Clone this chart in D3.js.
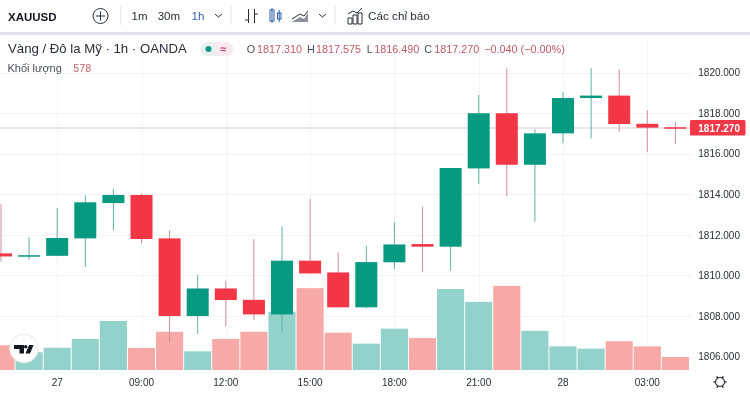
<!DOCTYPE html>
<html><head><meta charset="utf-8">
<script src="https://cdn.jsdelivr.net/npm/d3@7"></script>
<style>
html,body{margin:0;padding:0;background:#fff;width:750px;height:393px;overflow:hidden}
svg{display:block;filter:blur(.3px)}
text{font-family:"Liberation Sans",Arial,sans-serif}
</style></head><body><svg id="c" width="750" height="393"></svg>
<script>
// one entry per hourly candle
const opens  =[1811.09,1810.95,1810.97,1811.83,1813.57,1813.97,1811.83,1808.00,1809.36,1808.80,1808.08,1810.73,1810.15,1808.43,1810.65,1811.55,1811.42,1815.28,1818.00,1815.46,1817.01,1818.75,1818.87,1817.48,1817.31];
const closes =[1810.94,1811.00,1811.85,1813.61,1813.97,1811.80,1808.00,1809.36,1808.79,1808.08,1810.73,1810.10,1808.43,1810.66,1811.53,1811.42,1815.30,1818.00,1815.46,1817.01,1818.75,1818.87,1817.47,1817.29,1817.27];
const highs  =[1813.52,1811.89,1813.33,1813.95,1814.28,1814.05,1812.23,1810.02,1809.72,1811.80,1812.42,1813.77,1811.14,1811.47,1812.62,1813.39,1815.30,1818.90,1820.22,1817.21,1819.06,1820.22,1820.15,1818.15,1817.575];
const lows   =[1810.68,1810.79,1810.95,1810.41,1812.23,1811.58,1806.70,1807.12,1807.50,1807.81,1807.21,1810.10,1808.43,1808.38,1810.32,1810.18,1810.23,1814.51,1813.92,1812.65,1816.52,1816.76,1817.09,1816.09,1816.49];
const volumes=[1100,790,990,1380,2180,980,1700,830,1380,1700,2590,3640,1660,1170,1840,1420,3600,3030,3740,1740,1050,950,1280,1050,578];
const priceTicks=[1820,1818,1816,1814,1812,1810,1808,1806];
const timeLabels=[["27",2],["09:00",5],["12:00",8],["15:00",11],["18:00",14],["21:00",17],["28",20],["03:00",23]];
const intervals=["1m","30m","1h"];
const UP="#089981",DOWN="#f23645",lastPrice=1817.27;

const svg=d3.select("#c");
const x=d3.scaleLinear().domain([0,24]).range([1,675.4]);
const y=d3.scaleLinear().domain([1806,1820]).range([356.6,72.7]);
const v=d3.scaleLinear().domain([0,578]).range([370,357]);
const plotR=692,plotT=41,plotB=370;

// grid
const grid=svg.append("g").attr("stroke","#f3f4f6").attr("stroke-width",1);
grid.selectAll("line.h").data(priceTicks).join("line").attr("x1",0).attr("x2",plotR)
  .attr("y1",d=>Math.round(y(d))+.5).attr("y2",d=>Math.round(y(d))+.5);
grid.selectAll("line.v").data(timeLabels).join("line").attr("y1",plotT).attr("y2",plotB)
  .attr("x1",d=>Math.round(x(d[1]))+.5).attr("x2",d=>Math.round(x(d[1]))+.5);

// volume
const step=x(1)-x(0);
svg.append("g").selectAll("rect").data(volumes).join("rect")
  .attr("x",(d,i)=>x(i)-step/2+.5).attr("width",step-1)
  .attr("y",d=>v(d)).attr("height",d=>v(0)-v(d))
  .attr("fill",(d,i)=>closes[i]>=opens[i]?"#92d2ca":"#f7a9a7");

// last-price line
svg.append("line").attr("x1",0).attr("x2",plotR).attr("y1",y(lastPrice)).attr("y2",y(lastPrice))
  .attr("stroke","#e8d9e2").attr("stroke-width",1.5);

// candles
const cg=svg.append("g");
const col=i=>closes[i]>=opens[i]?UP:DOWN;
cg.selectAll("line").data(highs).join("line")
  .attr("x1",(d,i)=>x(i)).attr("x2",(d,i)=>x(i))
  .attr("y1",d=>y(d)).attr("y2",(d,i)=>y(lows[i]))
  .attr("stroke",(d,i)=>closes[i]>=opens[i]?"#5fb3a3":"#cf8f9b").attr("stroke-width",1);
cg.selectAll("rect").data(opens).join("rect")
  .attr("x",(d,i)=>x(i)-11).attr("width",22)
  .attr("y",(d,i)=>y(Math.max(d,closes[i])))
  .attr("height",(d,i)=>Math.max(1.5,Math.abs(y(d)-y(closes[i]))))
  .attr("fill",(d,i)=>col(i));

// mask for scales
svg.append("rect").attr("x",plotR).attr("y",plotT).attr("width",58).attr("height",352).attr("fill","#fff");

// price axis
const pa=svg.append("g");
pa.selectAll("text").data(priceTicks).join("text").attr("x",740).attr("y",d=>y(d)+3.6)
  .attr("text-anchor","end").attr("font-size",10).attr("fill","#2a2e39")
  .text(d=>d3.format(".3f")(d));
svg.append("rect").attr("x",690).attr("y",120).attr("width",55.5).attr("height",15.5).attr("rx",1.5).attr("fill",DOWN);
svg.append("text").attr("x",740).attr("y",131.6).attr("text-anchor","end").attr("font-size",10).attr("font-weight",700).attr("fill","#fff").text(d3.format(".3f")(lastPrice));

// time axis
svg.append("g").selectAll("text").data(timeLabels).join("text")
  .attr("x",d=>x(d[1])).attr("y",386).attr("text-anchor","middle").attr("font-size",10).attr("fill","#2a2e39").text(d=>d[0]);

// gear
const gear=svg.append("g").attr("transform","translate(720,382)").attr("fill","none").attr("stroke","#2a2e39");
gear.append("circle").attr("r",4.5).attr("stroke-width",1.1);
gear.selectAll("line").data(d3.range(6)).join("line").attr("stroke-width",1.4)
  .attr("x1",d=>4.5*Math.cos(d*Math.PI/3)).attr("y1",d=>4.5*Math.sin(d*Math.PI/3))
  .attr("x2",d=>6.5*Math.cos(d*Math.PI/3)).attr("y2",d=>6.5*Math.sin(d*Math.PI/3));

// toolbar
svg.append("rect").attr("x",0).attr("y",32).attr("width",750).attr("height",3).attr("fill","#e3e3ec");
const t=(s,xx,yy,size,fill,w)=>svg.append("text").attr("x",xx).attr("y",yy).attr("font-size",size).attr("fill",fill).attr("font-weight",w||400).text(s);
t("XAUUSD",8,20.5,11.5,"#131722",700);
svg.append("circle").attr("cx",100.5).attr("cy",16).attr("r",7.5).attr("fill","none").attr("stroke","#2a2e39");
svg.append("path").attr("d","M100.5 11.5v9M96 16h9").attr("stroke","#2a2e39").attr("fill","none");
[131.5,157.7,191.5].forEach((d,i)=>t(intervals[i],d,20,11.5,i==2?"#2f5fb0":"#2a2e39"));
svg.append("path").attr("d","M215 14l3.5 3l3.5-3").attr("stroke","#2a2e39").attr("fill","none");
svg.append("path").attr("d","M319 14l3.5 3l3.5-3").attr("stroke","#2a2e39").attr("fill","none");
[120.5,231,335].forEach(d=>svg.append("line").attr("x1",d).attr("x2",d).attr("y1",6).attr("y2",25).attr("stroke","#e6e7ea"));
// bar-style icon
svg.append("path").attr("d","M248.5 9v14M245 20h3.5M254.5 9v14M254.5 14h3.5").attr("stroke","#2a2e39").attr("fill","none");
svg.append("rect").attr("x",270).attr("y",10).attr("width",4).attr("height",11).attr("fill","none").attr("stroke","#2f5fb0");
svg.append("rect").attr("x",277.5).attr("y",13).attr("width",3.5).attr("height",6).attr("fill","none").attr("stroke","#2f5fb0");
svg.append("path").attr("d","M272 8v15M279.2 10v12").attr("stroke","#2f5fb0").attr("fill","none");
svg.append("path").attr("d","M292 22l8-5l4 2l4-6l0 9z").attr("fill","#8d9098");
svg.append("path").attr("d","M292 19l8-5l4 2l4-5").attr("stroke","#2a2e39").attr("fill","none");
// indicators icon
svg.append("path").attr("d","M348 24v-6h4v6zM353 24v-9h4v9zM358 24v-11h4v11zM348 14l5-3l4 2l5-5").attr("stroke","#2a2e39").attr("fill","none");
t("Các chỉ báo",368,20,11.7,"#2a2e39");

// legend
t("Vàng / Đô la Mỹ · 1h · OANDA",8,53,13.2,"#2a2e39");
svg.append("rect").attr("x",200).attr("y",42).attr("width",33).attr("height",14).attr("rx",7).attr("fill","#e8f1f0");
svg.append("path").attr("d","M216 42h10a7 7 0 0 1 0 14h-10z").attr("fill","#fbe9ef");
svg.append("circle").attr("cx",208.5).attr("cy",49).attr("r",3).attr("fill",UP);
t("≈",220,53,11,"#c2447a",700);
const seg=[["O",246.7,"#4a4e59"],["1817.310",257,"#bf5a66"],["H",307,"#4a4e59"],["1817.575",316,"#bf5a66"],["L",366.7,"#4a4e59"],["1816.490",374.3,"#bf5a66"],["C",424.3,"#4a4e59"],["1817.270",434.3,"#bf5a66"],["−0.040 (−0.00%)",484.3,"#bf5a66"]];
seg.forEach(d=>t(d[0],d[1],53,10.8,d[2]));
t("Khối lượng",7.5,72,11,"#4a4e59");
t("578",73.3,72,10.8,"#c9606c");

// logo badge
svg.append("circle").attr("cx",24).attr("cy",348.5).attr("r",14.3).attr("fill","#fff").attr("stroke","#e6e7ea");
svg.append("path").attr("d","M14 345h10v8.5h-4.5v-4.5H14zM25.5 353.5l3.6-8.5h4.5l-3.6 8.5z").attr("fill","#131722");
svg.append("circle").attr("cx",25.7).attr("cy",346.7).attr("r",1.7).attr("fill","#131722");
</script></body></html>
